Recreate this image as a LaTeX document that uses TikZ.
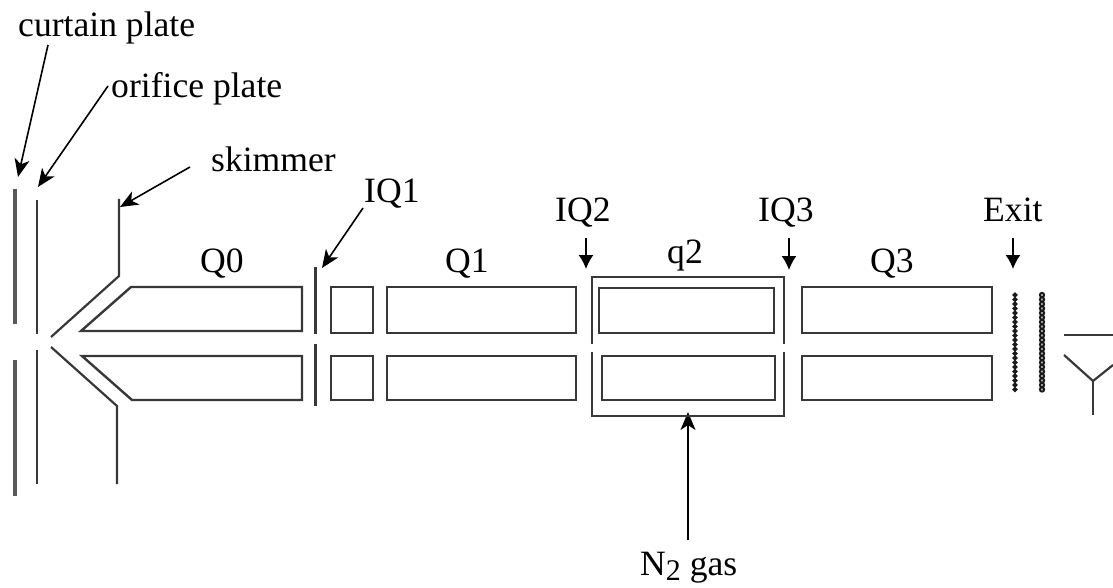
\documentclass[tikz,border=0pt]{standalone}
\usepackage{fontspec}
\setmainfont{Liberation Serif}
\usetikzlibrary{arrows.meta}
\tikzset{
  plate/.style={line width=2.2pt,draw=black!78},
  thickplate/.style={line width=3.6pt,draw=black!65},
  rod/.style={line width=2.4pt,draw=black!78,line join=miter},
  pointer/.style={line width=1.6pt,-{Stealth[length=18pt,width=15pt,inset=5pt]}},
  smallpointer/.style={line width=1.6pt,-{Latex[length=14pt,width=15pt]}},
  lbl/.style={inner sep=0pt,anchor=base west,font=\fontsize{35.6}{40}\selectfont},
  lens/.style={line width=1.8pt,draw=black!90,fill=black!35}
}
\begin{document}
\begin{tikzpicture}[x=1pt,y=-1pt]
  \useasboundingbox (0,0) rectangle (1113,588);
  % labels
  \node[lbl] (curtain) at (18,37) {curtain plate};
  \node[lbl] (orifice) at (111,98) {orifice plate};
  \node[lbl] (skimmer) at (211,172) {skimmer};
  \node[lbl] (iqone) at (364,203) {IQ1};
  \node[lbl] (iqtwo) at (555,222) {IQ2};
  \node[lbl] (iqthree) at (758,222) {IQ3};
  \node[lbl] (exit) at (983,222) {Exit};
  \node[lbl] (qzero) at (200,272) {Q0};
  \node[lbl] (qone) at (445,272) {Q1};
  \node[lbl] (qtwo) at (667,263) {q2};
  \node[lbl] (qthree) at (870,272) {Q3};
  \node[lbl] (gas) at (640,575) {N\raisebox{-5pt}{\fontsize{30}{30}\selectfont 2} gas};
  % pointer ends
  \coordinate (c0) at (48,45);
  \coordinate (c1) at (18,177);
  \coordinate (o0) at (108,86);
  \coordinate (o1) at (38,187);
  \coordinate (s0) at (190,167);
  \coordinate (s1) at (120,207);
  \coordinate (i0) at (363,208);
  \coordinate (i1) at (322,268);
  \coordinate (j0) at (586,238);
  \coordinate (j1) at (586,269);
  \coordinate (k0) at (789,238);
  \coordinate (k1) at (789,270);
  \coordinate (e0) at (1013,238);
  \coordinate (e1) at (1013,269);
  \coordinate (g0) at (688,540);
  \coordinate (g1) at (688,412);
  \draw[pointer] (c0) -- (c1);
  \draw[pointer] (o0) -- (o1);
  \draw[pointer] (s0) -- (s1);
  \draw[pointer] (i0) -- (i1);
  \draw[smallpointer] (j0) -- (j1);
  \draw[smallpointer] (k0) -- (k1);
  \draw[smallpointer] (e0) -- (e1);
  \draw[pointer] (g0) -- (g1);
  % plates
  \draw[thickplate] (15,189) -- (15,324);
  \draw[thickplate] (15,360) -- (15,496);
  \draw[plate] (37,200) -- (37,334);
  \draw[plate] (37,350) -- (37,484);
  \draw[plate] (119,199) -- (119,276) -- (51,337);
  \draw[plate] (51,347) -- (117,406) -- (117,484);
  \draw[plate] (315.5,267) -- (315.5,334);
  \draw[plate] (315.5,344) -- (315.5,406);
  % rods
  \draw[rod] (81,331) -- (131,287) -- (302,287) -- (302,331) -- cycle;
  \draw[rod] (82,356) -- (132,400) -- (302,400) -- (302,356) -- cycle;
  \foreach \xa/\xb in {331/373,387/576,802/992} {
    \draw[rod] (\xa,287) rectangle (\xb,333);
    \draw[rod] (\xa,356) rectangle (\xb,400);
  }
  \draw[rod] (599,288) rectangle (774,333);
  \draw[rod] (602,356) rectangle (775,400);
  % collision cell
  \draw[plate] (592,344) -- (592,277) -- (784,277) -- (784,344);
  \draw[plate] (592,352) -- (592,416) -- (784,416) -- (784,352);
  % exit lenses
  \foreach \yy in {295,299.5,...,391} {
    \draw[lens] (1015,\yy) circle (1.5);
    \draw[lens] (1042,\yy) circle (2.2);
  }
  % detector
  \draw[plate] (1064,335) -- (1113,335);
  \draw[plate] (1064,355) -- (1093,381) -- (1113,365);
  \draw[plate] (1093,381) -- (1093,415);
\end{tikzpicture}
\end{document}
